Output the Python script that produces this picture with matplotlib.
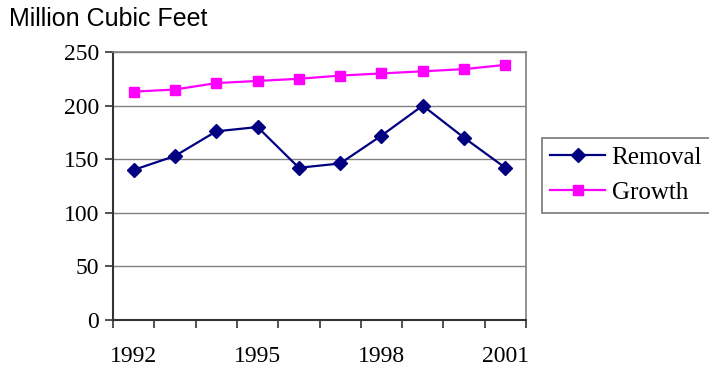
import numpy as np
import matplotlib.pyplot as plt

years = ["1992", "1993", "1994", "1995", "1996", "1997", "1998", "1999", "2000", "2001"]
removal = [140, 153, 176, 180, 142, 146, 172, 200, 170, 142]
growth = [213, 215, 221, 223, 225, 228, 230, 232, 234, 238]
y_ticks = [0, 50, 100, 150, 200, 250]

plt.rcParams["font.family"] = ["Liberation Serif", "DejaVu Serif"]
plt.rcParams["font.size"] = 17

fig = plt.figure(figsize=(7.09, 3.73), dpi=100)
ax = fig.add_axes([0.1594, 0.1421, 0.5825, 0.7185])

x = np.arange(len(years))
ax.plot(x, removal, "-D", color="#000080", linewidth=1.6, markersize=7, label="Removal")
ax.plot(x, growth, "-s", color="#ff00ff", linewidth=1.6, markersize=7, label="Growth")

ax.set_xlim(-0.5, len(years) - 0.5)
ax.set_ylim(0, 250)
ax.set_yticks(y_ticks)
ax.set_yticklabels([str(v) for v in y_ticks])
ax.yaxis.grid(True, color="#808080", linewidth=1)
ax.set_axisbelow(True)

# category boundary ticks, labels every third year
ax.set_xticks(np.arange(-0.5, len(years), 1.0))
ax.set_xticklabels([])
ax.set_xticks(x[::3], minor=True)
ax.set_xticklabels(years[::3], minor=True)
ax.tick_params(axis="x", which="major", length=6, width=1.2, color="#333333")
ax.tick_params(axis="x", which="minor", length=0, pad=19)
ax.tick_params(axis="y", length=6, width=1.2, color="#333333", pad=4)

for side in ["left", "bottom"]:
    ax.spines[side].set_color("#333333")
    ax.spines[side].set_linewidth(1.5)
for side in ["top", "right"]:
    ax.spines[side].set_color("#808080")
    ax.spines[side].set_linewidth(1.2)

fig.text(0.012, 0.948, "Million Cubic Feet", family="Liberation Sans", fontsize=18,
         va="center", ha="left")

leg = ax.legend(loc="center left", bbox_to_anchor=(1.038, 0.54), frameon=True, fancybox=False,
                fontsize=18, handlelength=2.2, borderpad=0.35, labelspacing=0.5,
                handletextpad=0.25, borderaxespad=0)
leg.get_frame().set_edgecolor("#555555")
leg.get_frame().set_linewidth(1.2)

fig.savefig("out.png", dpi=100)
